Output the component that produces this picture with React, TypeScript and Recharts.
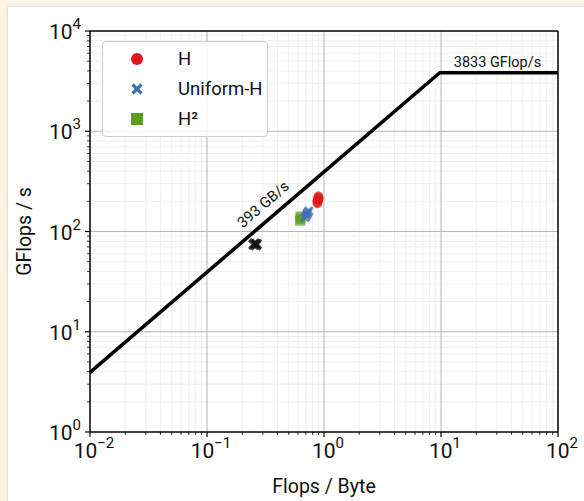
import React from 'react';
import { ScatterChart, Scatter, XAxis, YAxis, ReferenceLine, Legend } from 'recharts';

// ---- data ----
const xMajorTicks = [0.01, 0.1, 1, 10, 100];
const yMajorTicks = [1, 10, 100, 1000, 10000];
const xExponents = ['\u22122', '\u22121', '0', '1', '2'];
const yExponents = ['0', '1', '2', '3', '4'];
const minorMultipliers = [2, 3, 4, 5, 6, 7, 8, 9];

const bandwidthGBs = 393;
const peakGFlops = 3833;
const roofline = [
  { x: 0.01, y: 3.93 },
  { x: 9.753, y: 3833 },
  { x: 100, y: 3833 },
];

const hData = [
  { x: 0.88, y: 200 },
  { x: 0.89, y: 208 },
  { x: 0.9, y: 214 },
  { x: 0.88, y: 196 },
  { x: 0.895, y: 220 },
];
const uniformHData = [
  { x: 0.69, y: 138 },
  { x: 0.705, y: 144 },
  { x: 0.715, y: 149 },
  { x: 0.725, y: 154 },
  { x: 0.74, y: 160 },
];
const h2Data = [
  { x: 0.625, y: 128 },
  { x: 0.63, y: 134 },
  { x: 0.63, y: 141 },
];
const baselineData = [
  { x: 0.25, y: 74 },
  { x: 0.256, y: 76 },
  { x: 0.262, y: 73 },
  { x: 0.266, y: 75 },
];

const bwLabelPoint = [{ x: 0.366, y: 393 * 0.366 }];
const peakLabelPoint = [{ x: 30.4, y: 3833 }];

const RED = '#dc1a1a';
const BLUE = '#3f6fb5';
const GREEN = '#5a9f1e';
const BLACK = '#111111';

const decadesX = [0.01, 0.1, 1, 10];
const decadesY = [1, 10, 100, 1000];
const xMinor: number[] = [];
decadesX.forEach((d) => minorMultipliers.forEach((m) => xMinor.push(+(m * d).toPrecision(6))));
const yMinor: number[] = [];
decadesY.forEach((d) => minorMultipliers.forEach((m) => yMinor.push(+(m * d).toPrecision(6))));

const xAllTicks = [...xMajorTicks, ...xMinor].sort((a, b) => a - b);
const yAllTicks = [...yMajorTicks, ...yMinor].sort((a, b) => a - b);

const FONT = 'Roboto, "DejaVu Sans", sans-serif';

const XTick = (props: any) => {
  const { x, y, payload } = props;
  const idx = xMajorTicks.indexOf(payload.value);
  const major = idx >= 0;
  return (
    <g>
      <line x1={x} x2={x} y1={y} y2={y + (major ? 5 : 3)} stroke="#000" strokeWidth={major ? 1.2 : 0.8} />
      {major && (
        <text x={x + 4} y={y + 26} textAnchor="middle" fontFamily={FONT} fontSize={21} fill="#111">
          <tspan>10</tspan>
          <tspan dy={-10} fontSize={15}>{xExponents[idx]}</tspan>
        </text>
      )}
    </g>
  );
};

const YTick = (props: any) => {
  const { x, y, payload } = props;
  const idx = yMajorTicks.indexOf(payload.value);
  const major = idx >= 0;
  return (
    <g>
      <line x1={x} x2={x - (major ? 5 : 3)} y1={y} y2={y} stroke="#000" strokeWidth={major ? 1.2 : 0.8} />
      {major && (
        <text x={x - 9} y={y + 8} textAnchor="end" fontFamily={FONT} fontSize={21} fill="#111">
          <tspan>10</tspan>
          <tspan dy={-10} fontSize={15}>{yExponents[idx]}</tspan>
        </text>
      )}
    </g>
  );
};

const circleShape = (color: string) => (p: any) => (
  <ellipse cx={p.cx} cy={p.cy} rx={5} ry={6} fill={color} fillOpacity={0.7} />
);
const squareShape = (color: string) => (p: any) => (
  <rect x={p.cx - 5} y={p.cy - 5} width={10} height={10} fill={color} fillOpacity={0.7} />
);
const xShape = (color: string, s = 4.5) => (p: any) => (
  <g stroke={color} strokeWidth={3} strokeOpacity={0.75}>
    <line x1={p.cx - s} y1={p.cy - s} x2={p.cx + s} y2={p.cy + s} />
    <line x1={p.cx - s} y1={p.cy + s} x2={p.cx + s} y2={p.cy - s} />
  </g>
);
const emptyShape = () => <g />;

const bwLabelShape = (p: any) => (
  <text
    x={p.cx}
    y={p.cy}
    dy={-10}
    textAnchor="middle"
    transform={`rotate(-40.6, ${p.cx}, ${p.cy})`}
    fontFamily={FONT}
    fontSize={15}
    fill="#111"
  >
    {`${bandwidthGBs} GB/s`}
  </text>
);
const peakLabelShape = (p: any) => (
  <text x={p.cx} y={p.cy} dy={-6} textAnchor="middle" fontFamily={FONT} fontSize={14.5} fill="#111">
    {`${peakGFlops} GFlop/s`}
  </text>
);

const legendItems = [
  { name: 'H', color: RED, kind: 'circle' },
  { name: 'Uniform-H', color: BLUE, kind: 'x' },
  { name: 'H\u00b2', color: GREEN, kind: 'square' },
];

const LegendBox = () => (
  <div
    style={{
      width: 166,
      height: 96,
      border: '1px solid #d0d0d0',
      borderRadius: 4,
      background: 'rgba(255,255,255,0.85)',
      boxSizing: 'border-box',
      fontFamily: FONT,
      fontSize: 18.5,
      color: '#111',
      position: 'relative',
    }}
  >
    {legendItems.map((it, i) => (
      <div key={it.name} style={{ position: 'absolute', left: 0, top: 5 + i * 30, height: 28, width: '100%' }}>
        <svg width={24} height={24} style={{ position: 'absolute', left: 22, top: 0 }}>
          {it.kind === 'circle' && <circle cx={12} cy={12} r={6} fill={it.color} />}
          {it.kind === 'square' && <rect x={6} y={6} width={12} height={12} fill={it.color} />}
          {it.kind === 'x' && (
            <g stroke={it.color} strokeWidth={3.2}>
              <line x1={7.5} y1={7.5} x2={16.5} y2={16.5} />
              <line x1={7.5} y1={16.5} x2={16.5} y2={7.5} />
            </g>
          )}
        </svg>
        <span style={{ position: 'absolute', left: 75, top: 1, lineHeight: '22px' }}>{it.name}</span>
      </div>
    ))}
  </div>
);

const YLabel = (props: any) => {
  const vb = props.viewBox;
  const cx = 31;
  const cy = vb.y + vb.height / 2;
  return (
    <text x={cx} y={cy} transform={`rotate(-90, ${cx}, ${cy})`} textAnchor="middle" fontFamily={FONT} fontSize={19.5} fill="#111">
      GFlops / s
    </text>
  );
};
const XLabel = (props: any) => {
  const vb = props.viewBox;
  return (
    <text x={vb.x + vb.width / 2} y={493} textAnchor="middle" fontFamily={FONT} fontSize={19.5} fill="#111">
      Flops / Byte
    </text>
  );
};

export default function App() {
  return (
    <div style={{ position: 'fixed', left: 0, top: 0, width: 584, height: 501, background: '#fbf4e4', overflow: 'hidden' }}>
      <div
        style={{
          position: 'absolute',
          left: 8,
          top: 7,
          width: 620,
          height: 520,
          background: '#ffffff',
          boxShadow: '0 0 3px rgba(0,0,0,0.18)',
        }}
      />
      <div style={{ position: 'absolute', left: 0, top: 0 }}>
        <ScatterChart width={584} height={501} margin={{ top: 31, right: 26, bottom: 0, left: 0 }}>
          <XAxis
            type="number"
            dataKey="x"
            scale="log"
            domain={[0.01, 100]}
            allowDataOverflow
            ticks={xAllTicks}
            interval={0}
            tick={<XTick />}
            tickLine={false}
            tickSize={0}
            tickMargin={0}
            height={69}
            axisLine={{ stroke: '#000', strokeWidth: 1.5 }}
            label={<XLabel />}
          />
          <YAxis
            type="number"
            dataKey="y"
            scale="log"
            domain={[1, 10000]}
            allowDataOverflow
            ticks={yAllTicks}
            interval={0}
            tick={<YTick />}
            tickLine={false}
            tickSize={0}
            tickMargin={0}
            width={90}
            axisLine={{ stroke: '#000', strokeWidth: 1.5 }}
            label={<YLabel />}
          />
          {xMinor.map((v) => (
            <ReferenceLine key={`xm${v}`} x={v} stroke="#eeeeee" strokeWidth={1} />
          ))}
          {yMinor.map((v) => (
            <ReferenceLine key={`ym${v}`} y={v} stroke="#eeeeee" strokeWidth={1} />
          ))}
          {xMajorTicks.slice(1, -1).map((v) => (
            <ReferenceLine key={`xM${v}`} x={v} stroke="#b5b5b5" strokeWidth={1} />
          ))}
          {yMajorTicks.slice(1, -1).map((v) => (
            <ReferenceLine key={`yM${v}`} y={v} stroke="#b5b5b5" strokeWidth={1} />
          ))}
          <ReferenceLine x={100} stroke="#000" strokeWidth={1.5} />
          <ReferenceLine y={10000} stroke="#000" strokeWidth={1.5} />
          <Scatter
            name="roof"
            data={roofline}
            line={{ stroke: '#000', strokeWidth: 3.5 }}
            shape={emptyShape}
            legendType="none"
            isAnimationActive={false}
          />
          <Scatter name="bwlabel" data={bwLabelPoint} shape={bwLabelShape} legendType="none" isAnimationActive={false} />
          <Scatter name="peaklabel" data={peakLabelPoint} shape={peakLabelShape} legendType="none" isAnimationActive={false} />
          <Scatter name="baseline" data={baselineData} shape={xShape(BLACK)} legendType="none" isAnimationActive={false} />
          <Scatter name="H²" data={h2Data} shape={squareShape(GREEN)} isAnimationActive={false} />
          <Scatter name="Uniform-H" data={uniformHData} shape={xShape(BLUE, 4)} isAnimationActive={false} />
          <Scatter name="H" data={hData} shape={circleShape(RED)} isAnimationActive={false} />
          <Legend
            layout="vertical"
            align="center"
            verticalAlign="middle"
            content={<LegendBox />}
            wrapperStyle={{ position: 'absolute', left: 102, top: 41, width: 166, height: 96 }}
          />
        </ScatterChart>
      </div>
    </div>
  );
}
